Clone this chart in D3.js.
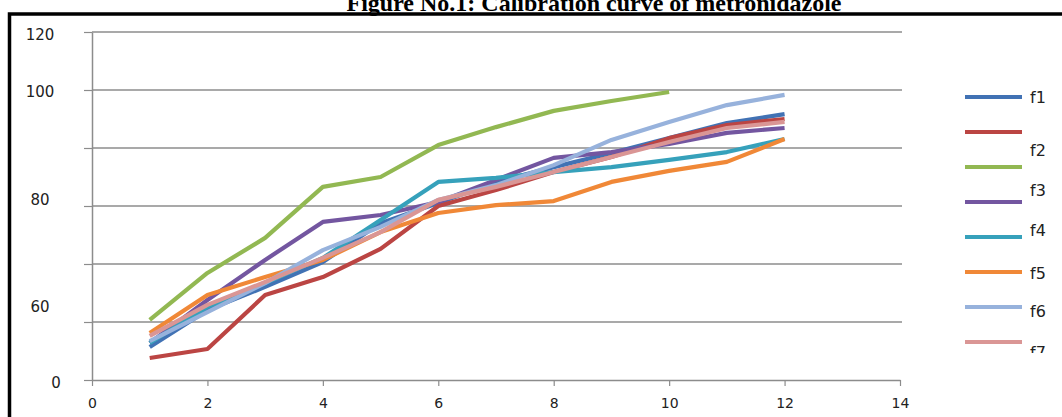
<!DOCTYPE html>
<html>
<head>
<meta charset="utf-8">
<script src="https://cdn.jsdelivr.net/npm/d3@7"></script>
<style>
  html, body { margin: 0; padding: 0; background: #fff; overflow: hidden; }
  svg { display: block; }
</style>
</head>
<body>
<svg width="1062" height="417"></svg>
<script>
// data
const title = 'Figure No.1: Calibration curve of metronidazole'
const times = [1, 2, 3, 4, 5, 6, 7, 8, 9, 10, 11, 12]
const f1 = [11.4, 24.1, 32.1, 40.7, 54.1, 61.0, 68.3, 73.4, 78.3, 83.4, 88.6, 91.7]
const f2 = [7.6, 10.7, 29.3, 35.5, 45.2, 60.0, 65.5, 71.7, 76.9, 83.4, 87.9, 90.0]
const f3 = [20.7, 36.9, 49.0, 66.6, 70.0, 81.0, 87.2, 92.8, 96.2, 99.3]
const f4 = [12.8, 27.6, 41.4, 54.5, 56.9, 61.4, 69.0, 76.6, 78.6, 81.4, 85.2, 86.9]
const f5 = [12.8, 25.2, 33.4, 42.1, 55.2, 68.3, 69.7, 71.7, 73.4, 75.9, 78.6, 83.1]
const f6 = [16.2, 29.3, 35.5, 41.4, 51.0, 57.6, 60.3, 61.7, 68.3, 72.1, 75.2, 83.1]
const f7 = [13.4, 23.4, 33.4, 44.8, 52.8, 62.1, 67.2, 74.1, 82.8, 89.0, 94.8, 98.3]
const f8 = [15.2, 25.9, 33.8, 42.1, 51.0, 62.1, 66.6, 71.7, 76.9, 82.1, 86.9, 89.0]
const seriesValues = [f1, f2, f3, f4, f5, f6, f7, f8]
const colors = ['#4172b4', '#bb4543', '#92b852', '#7356a0', '#36a1bb', '#f08837', '#97b2dc', '#da9695']
const legendLabels = ['f1', 'f2', 'f3', 'f4', 'f5', 'f6', 'f7']
const xTicks = [0, 2, 4, 6, 8, 10, 12, 14]
const yGrid = [0, 20, 40, 60, 80, 100, 120]
const yLabels = ['120', '100', '80', '60', '0']
const yLabelAt = [119, 99.3, 62, 25.2, -1]

const svg = d3.select('svg')

const xScale = d3.scaleLinear().domain([0, 14]).range([92, 900])
const yScale = d3.scaleLinear().domain([0, 120]).range([380, 32])

// frame and title (the top of the title is cut off in the original)
svg.append('text')
  .attr('x', 594)
  .attr('y', 11)
  .attr('text-anchor', 'middle')
  .style('font-family', '"Liberation Serif", "Times New Roman", serif')
  .style('font-weight', 'bold')
  .style('font-size', '24px')
  .text(title)

svg.append('path')
  .attr('d', 'M9.5,417 V14 H1062')
  .attr('fill', 'none')
  .attr('stroke', '#000')
  .attr('stroke-width', 3.5)

// gridlines
svg.append('g').selectAll('line').data(yGrid.slice(1))
  .enter().append('line')
  .attr('x1', xScale(0))
  .attr('x2', 902)
  .attr('y1', d => yScale(d))
  .attr('y2', d => yScale(d))
  .attr('stroke', '#8c8c8c')
  .attr('stroke-width', 1.5)

const xAxis = d3.axisBottom(xScale).tickValues(xTicks).tickSize(6).tickSizeOuter(0)
const gx = svg.append('g')
  .attr('transform', `translate(0, ${yScale(0)})`)
  .call(xAxis)
gx.select('.domain').attr('stroke', '#8c8c8c').attr('stroke-width', 1.5)
gx.selectAll('.tick line').attr('stroke', '#8c8c8c').attr('stroke-width', 1.2)
gx.selectAll('.tick text')
  .attr('y', 28)
  .attr('dy', '0')
  .attr('fill', '#222')
  .style('font-family', '"DejaVu Sans", sans-serif')
  .style('font-size', '14px')

const yAxis = d3.axisLeft(yScale).tickValues(yGrid).tickSize(8).tickSizeOuter(0).tickFormat('')
const gy = svg.append('g')
  .attr('transform', `translate(${xScale(0)}, 0)`)
  .call(yAxis)
gy.select('.domain').attr('stroke', '#8c8c8c').attr('stroke-width', 1.5)
gy.selectAll('.tick line').attr('stroke', '#8c8c8c').attr('stroke-width', 1.2)

svg.append('g').selectAll('text').data(yLabels)
  .enter().append('text')
  .attr('x', (d, i) => d === '0' ? 56 : 40)
  .attr('y', (d, i) => yScale(yLabelAt[i]))
  .attr('dy', '0.35em')
  .attr('text-anchor', 'middle')
  .attr('fill', '#222')
  .style('font-family', '"DejaVu Sans", sans-serif')
  .style('font-size', '15px')
  .text(d => d)

// lines
const line = d3.line()
  .x((d, i) => xScale(times[i]))
  .y(d => yScale(d))

svg.append('g').selectAll('path').data(seriesValues)
  .enter().append('path')
  .attr('d', d => line(d))
  .attr('fill', 'none')
  .attr('stroke', (d, i) => colors[i])
  .attr('stroke-width', 4.2)
  .attr('stroke-linejoin', 'round')

// legend, clipped at the bottom like the original
svg.append('clipPath').attr('id', 'legclip')
  .append('rect').attr('x', 940).attr('y', 60).attr('width', 122).attr('height', 293)

const legend = svg.append('g').attr('clip-path', 'url(#legclip)')
const legendLineY = d3.scaleLinear().domain([0, 7]).range([97, 342])
const legendLabelY = [97, 150, 190, 230, 273, 311, 352]

legend.selectAll('line').data(colors)
  .enter().append('line')
  .attr('x1', 965)
  .attr('x2', 1022)
  .attr('y1', (d, i) => legendLineY(i))
  .attr('y2', (d, i) => legendLineY(i))
  .attr('stroke', d => d)
  .attr('stroke-width', 4)

legend.selectAll('text').data(legendLabels)
  .enter().append('text')
  .attr('x', 1030)
  .attr('y', (d, i) => legendLabelY[i])
  .attr('dy', '0.35em')
  .attr('fill', '#222')
  .style('font-family', '"DejaVu Sans", sans-serif')
  .style('font-size', '16px')
  .text(d => d)
</script>
</body>
</html>
